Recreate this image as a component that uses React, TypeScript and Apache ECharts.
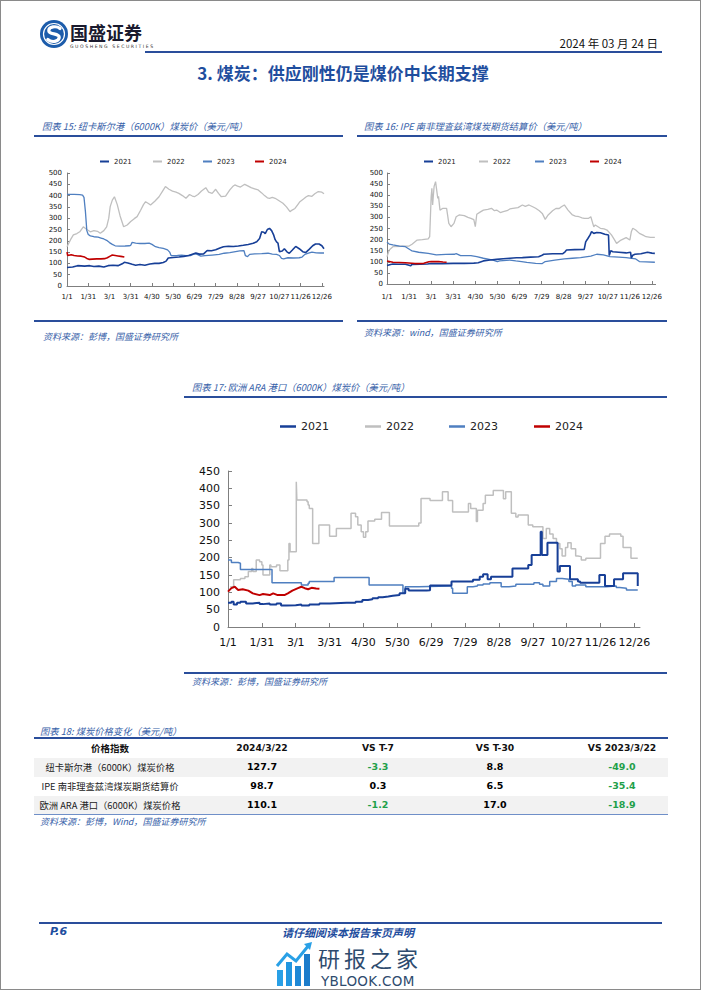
import React, { useEffect, useRef } from "react";
import * as echarts from "echarts";

// ---------- data ----------
const TICK_LABELS = ["1/1", "1/31", "3/1", "3/31", "4/30", "5/30", "6/29", "7/29", "8/28", "9/27", "10/27", "11/26", "12/26"];
const TICK_DAYS = [0, 30, 60, 90, 120, 150, 180, 210, 240, 270, 300, 330, 360];
const YEARS = ["2021", "2022", "2023", "2024"];
const COLORS = ["#173F97", "#BFBFBF", "#4F7FC0", "#C00000"];

type P = [number, number][];

// 图表15 纽卡斯尔港
const NEWCASTLE_2021: P = [[0,82],[8,84],[15,90],[25,88],[32,90],[38,86],[45,88],[52,84],[58,90],[65,92],[72,90],[78,98],[81,105],[86,102],[92,96],[97,92],[103,95],[110,92],[117,97],[124,100],[130,100],[136,104],[140,110],[143,124],[150,126],[158,128],[165,131],[172,135],[178,142],[182,146],[187,141],[193,142],[198,157],[204,156],[210,160],[216,168],[221,174],[228,176],[235,175],[242,177],[249,180],[256,184],[263,189],[268,196],[272,210],[275,240],[278,238],[280,232],[283,250],[286,255],[289,245],[292,225],[294,205],[296,195],[298,190],[300,152],[304,155],[307,165],[311,150],[314,145],[318,158],[323,175],[328,165],[333,152],[337,148],[342,162],[347,178],[351,186],[356,186],[360,178],[363,165]];
const NEWCASTLE_2022: P = [[0,174],[5,205],[9,226],[14,232],[18,240],[23,262],[28,250],[33,240],[38,245],[43,242],[47,233],[52,245],[56,262],[59,300],[61,351],[64,380],[67,395],[71,360],[75,310],[80,262],[85,270],[90,285],[95,298],[99,307],[104,335],[108,360],[111,373],[115,365],[118,358],[124,375],[130,395],[135,420],[139,440],[144,428],[149,420],[154,415],[158,410],[163,400],[168,388],[173,405],[177,398],[180,395],[185,405],[190,420],[196,435],[200,415],[205,410],[210,428],[214,410],[218,395],[224,398],[230,425],[234,440],[237,447],[241,442],[245,438],[251,450],[256,442],[260,435],[265,430],[270,425],[275,412],[279,400],[283,390],[286,388],[290,392],[294,388],[299,378],[305,366],[310,350],[315,329],[318,336],[322,343],[326,360],[329,373],[334,385],[338,395],[341,400],[346,397],[350,408],[355,418],[360,415],[363,408]];
const NEWCASTLE_2023: P = [[0,405],[10,405],[18,404],[22,402],[24,392],[26,330],[28,245],[30,228],[33,222],[38,218],[44,216],[48,212],[52,208],[56,202],[60,192],[64,184],[68,178],[74,176],[82,177],[88,178],[90,180],[92,193],[97,190],[103,188],[110,188],[116,190],[120,184],[125,174],[130,170],[136,166],[142,160],[145,150],[147,135],[150,134],[156,135],[162,137],[168,134],[175,135],[180,142],[184,140],[189,132],[195,134],[205,137],[215,140],[222,145],[230,148],[238,152],[244,155],[250,156],[252,134],[255,130],[258,140],[265,142],[275,143],[284,145],[290,141],[296,140],[300,135],[303,122],[306,120],[312,125],[320,124],[328,125],[332,128],[336,140],[341,145],[346,150],[352,147],[358,146],[363,146]];
const NEWCASTLE_2024: P = [[0,150],[1,135],[6,138],[10,135],[15,133],[20,132],[25,128],[28,122],[31,118],[36,119],[42,120],[48,120],[53,121],[57,125],[61,132],[64,137],[68,135],[72,133],[76,131],[81,128]];

// 图表16 IPE 南非理查兹湾
const IPE_2021: P = [[0,83],[5,88],[8,90],[15,89],[25,89],[30,84],[32,82],[34,88],[45,89],[55,90],[60,92],[75,92],[90,93],[105,93],[118,94],[124,96],[131,104],[140,108],[149,111],[158,114],[167,116],[176,118],[184,119],[195,121],[206,123],[210,128],[213,134],[225,136],[239,137],[242,145],[244,153],[255,155],[268,156],[270,190],[273,205],[276,221],[278,236],[281,228],[285,232],[290,231],[296,224],[301,221],[302,128],[304,150],[307,145],[315,143],[325,140],[331,143],[332,116],[334,130],[337,134],[345,136],[354,143],[360,139],[364,138]];
const IPE_2022: P = [[0,123],[3,153],[8,168],[20,170],[30,171],[34,179],[41,198],[48,200],[56,203],[58,213],[60,393],[61,431],[62,356],[64,439],[66,461],[69,386],[70,395],[72,333],[76,341],[81,341],[84,273],[87,258],[91,273],[94,303],[98,311],[105,308],[110,300],[114,296],[118,290],[120,258],[122,314],[127,325],[131,333],[137,336],[142,341],[146,330],[149,333],[154,322],[158,326],[163,330],[167,338],[171,341],[178,344],[184,356],[188,350],[193,356],[198,348],[202,341],[207,330],[211,318],[215,291],[219,311],[225,330],[230,341],[234,340],[237,348],[241,356],[246,333],[252,311],[256,306],[261,303],[265,298],[268,296],[274,296],[277,303],[279,280],[281,258],[283,266],[290,251],[295,248],[299,243],[305,221],[309,200],[312,183],[318,198],[325,209],[330,198],[332,235],[334,251],[338,243],[343,228],[348,220],[352,213],[358,210],[364,210]];
const IPE_2023: P = [[0,188],[3,180],[8,176],[17,171],[25,168],[32,153],[34,149],[43,143],[56,138],[67,131],[80,133],[92,134],[94,137],[100,128],[114,128],[122,123],[131,116],[144,108],[150,101],[153,104],[167,108],[175,104],[183,101],[190,97],[202,93],[211,92],[215,101],[228,108],[241,113],[252,116],[263,119],[277,126],[285,134],[294,131],[303,123],[315,121],[325,119],[338,113],[343,101],[352,100],[364,98]];
const IPE_2024: P = [[0,104],[8,98],[25,96],[38,92],[50,93],[57,100],[60,101],[70,101],[76,99],[81,98]];

// 图表17 欧洲 ARA 港口 (change points)
const ARA_2021: P = [[0,70],[3,73],[5,65],[8,70],[11,73],[16,68],[22,70],[28,66],[31,68],[37,65],[43,68],[47,62],[52,63],[60,65],[65,62],[72,65],[81,68],[90,70],[105,70],[113,73],[119,78],[124,80],[128,83],[133,86],[137,88],[142,90],[146,92],[152,97],[157,110],[160,105],[176,106],[179,120],[198,131],[206,131],[217,136],[223,145],[226,152],[230,138],[233,145],[252,169],[266,179],[269,208],[276,208],[277,275],[278,208],[283,243],[292,160],[294,176],[303,138],[310,131],[312,128],[329,150],[334,118],[342,138],[350,155],[363,118]];
const ARA_2022: P = [[2,116],[5,136],[11,140],[15,145],[18,160],[21,169],[22,160],[25,193],[28,188],[30,179],[31,150],[37,179],[38,174],[43,179],[46,162],[53,193],[54,241],[55,217],[60.5,419],[61,366],[70,361],[71,352],[72,342],[75,241],[80.5,294],[90,262],[96,284],[109,328],[113,318],[115,294],[118,275],[120,259],[122,275],[124,306],[130,311],[136,330],[143,291],[169,300],[171,371],[179,365],[190,390],[195,365],[199,332],[213,356],[215,342],[220,304],[221,337],[226,356],[228,380],[235,394],[244,370],[246,390],[251,328],[255,317],[257,323],[266,294],[270,289],[279,255],[282,284],[285,268],[288,255],[291,241],[294,226],[296,205],[299,229],[301,243],[304,226],[308,205],[310,203],[313,193],[317,198],[330,241],[334,262],[338,268],[348,262],[350,229],[357,198],[363,198]];
const ARA_2023: P = [[0,193],[3,186],[9,184],[11,166],[38,166],[39,128],[64,128],[65,121],[71,126],[72,131],[93,131],[94,143],[124,143],[125,121],[154,121],[155,97],[157,116],[169,118],[196,118],[198,112],[199,97],[212,116],[217,118],[221,121],[226,124],[232,128],[242,116],[249,118],[255,123],[271,128],[276,123],[279,118],[285,131],[291,140],[296,138],[302,131],[305,118],[308,121],[317,116],[335,118],[344,114],[347,112],[353,107],[363,109]];
const ARA_2024: P = [[0,102],[3,112],[6,116],[9,107],[13,109],[18,105],[22,97],[28,92],[31,95],[37,92],[40,97],[44,92],[50,92],[53,97],[57,105],[62,112],[65,116],[68,112],[71,109],[74,113],[78,111],[81,110]];

// 图表18 table
const TABLE_HEADERS = ["价格指数", "2024/3/22", "VS T-7", "VS T-30", "VS 2023/3/22"];
const TABLE_ROWS = ["纽卡斯尔港（6000K）煤炭价格", "IPE 南非理查兹湾煤炭期货结算价", "欧洲 ARA 港口（6000K）煤炭价格"];
const PRICE_0322 = [127.7, 98.7, 110.1];
const VS_T7 = [-3.3, 0.3, -1.2];
const VS_T30 = [8.8, 6.5, 17.0];
const VS_YOY = [-49.0, -35.4, -18.9];

// ---------- chart config ----------
type Cfg = {
  grid: { left: number; top: number; width: number; height: number };
  xMax: number; yMax: number; yInterval: number;
  series: P[]; step: (false | "end")[]; widths: number[];
  legendX: number[]; legendTop: number; iconW: number; iconH: number;
  fontSize: number; legendFont: number; yMargin: number; xMargin: number; tickLen: number;
};

function buildOption(c: Cfg) {
  const font = "DejaVu Sans";
  return {
    animation: false,
    grid: { ...c.grid, containLabel: false },
    legend: YEARS.map((y, i) => ({
      data: [y], left: c.legendX[i], top: c.legendTop, padding: 0, itemGap: 0,
      itemWidth: c.iconW, itemHeight: c.iconH, icon: "rect",
      textStyle: { fontFamily: font, fontSize: c.legendFont, color: "#222", lineHeight: c.legendFont + 2 },
    })),
    xAxis: {
      type: "value", min: 0, max: c.xMax, interval: 30,
      axisLine: { show: true, lineStyle: { color: "#7F7F7F", width: 1 } },
      axisTick: { show: true, inside: true, length: c.tickLen, lineStyle: { color: "#7F7F7F" }, customValues: TICK_DAYS },
      axisLabel: {
        fontFamily: font, fontSize: c.fontSize, color: "#111", margin: c.xMargin, customValues: TICK_DAYS,
        formatter: (v: number) => { const i = TICK_DAYS.indexOf(Math.round(v)); return i >= 0 ? TICK_LABELS[i] : ""; },
      },
      splitLine: { show: false },
    },
    yAxis: {
      type: "value", min: 0, max: c.yMax, interval: c.yInterval,
      axisLine: { show: true, lineStyle: { color: "#7F7F7F", width: 1 } },
      axisTick: { show: true, inside: true, length: c.tickLen, lineStyle: { color: "#7F7F7F" } },
      axisLabel: { fontFamily: font, fontSize: c.fontSize, color: "#111", margin: c.yMargin },
      splitLine: { show: false },
    },
    series: c.series.map((d, i) => ({
      name: YEARS[i], type: "line", data: d, showSymbol: false, symbol: "none",
      step: c.step[i], z: i === 3 ? 5 : i === 0 ? 4 : 3,
      lineStyle: { color: COLORS[i], width: c.widths[i] },
      itemStyle: { color: COLORS[i] },
    })),
  };
}

const CFG15: Cfg = {
  grid: { left: 32, top: 33, width: 257, height: 113 }, xMax: 363, yMax: 500, yInterval: 50,
  series: [NEWCASTLE_2021, NEWCASTLE_2022, NEWCASTLE_2023, NEWCASTLE_2024], step: [false, false, false, false],
  widths: [1.6, 1.3, 1.3, 1.6], legendX: [65, 118, 168, 220], legendTop: 17, iconW: 9, iconH: 2,
  fontSize: 7, legendFont: 7, yMargin: 5, xMargin: 7, tickLen: 3,
};
const CFG16: Cfg = {
  grid: { left: 30, top: 33, width: 276, height: 111 }, xMax: 365, yMax: 500, yInterval: 50,
  series: [IPE_2021, IPE_2022, IPE_2023, IPE_2024], step: [false, false, false, false],
  widths: [1.6, 1.3, 1.3, 1.6], legendX: [67, 122, 178, 233], legendTop: 17, iconW: 9, iconH: 2,
  fontSize: 7, legendFont: 7, yMargin: 4, xMargin: 9, tickLen: 3,
};
const CFG17: Cfg = {
  grid: { left: 43, top: 71, width: 412, height: 156 }, xMax: 365, yMax: 450, yInterval: 50,
  series: [ARA_2021, ARA_2022, ARA_2023, ARA_2024], step: ["end", "end", "end", false],
  widths: [2, 1.5, 1.5, 2], legendX: [95, 180, 264, 349], legendTop: 20, iconW: 16, iconH: 2.5,
  fontSize: 11, legendFont: 11, yMargin: 8, xMargin: 10, tickLen: 4,
};

function Chart({ cfg, style }: { cfg: Cfg; style: React.CSSProperties }) {
  const ref = useRef<HTMLDivElement>(null);
  useEffect(() => {
    if (!ref.current) return;
    const chart = echarts.init(ref.current, undefined, { renderer: "svg" });
    chart.setOption(buildOption(cfg) as any);
    return () => chart.dispose();
  }, [cfg]);
  return <div ref={ref} style={{ position: "absolute", overflow: "hidden", ...style }} />;
}

// ---------- page helpers ----------
const CJK = '"Noto Sans CJK SC", "DejaVu Sans", sans-serif';
const BLUE = "#2A4E9B";
const TITLE_BLUE = "#3560A8";

function Txt(props: {
  x: number; y: number; text: string; size: number; color?: string; weight?: number | string;
  italic?: boolean; anchor?: "left" | "center" | "right"; family?: string; ls?: number; lhf?: number;
}) {
  const { x, y, text, size, color = "#000", weight = 400, italic, anchor = "left", family = CJK, ls = 0, lhf = 1.25 } = props;
  const lh = Math.round(size * lhf);
  const w = 600;
  const left = anchor === "left" ? x : anchor === "center" ? x - w / 2 : x - w;
  return (
    <div style={{
      position: "absolute", left, top: y - lh / 2, width: w, height: lh, lineHeight: `${lh}px`,
      fontSize: size, color, fontWeight: weight as any, fontStyle: italic ? "italic" : "normal",
      fontFamily: family, textAlign: anchor, whiteSpace: "nowrap", letterSpacing: ls,
    }}>{text}</div>
  );
}

function Rule({ x1, x2, y, h = 1.5, color = BLUE }: { x1: number; x2: number; y: number; h?: number; color?: string }) {
  return <div style={{ position: "absolute", left: x1, top: y - h / 2, width: x2 - x1, height: h, background: color }} />;
}

const COL_X = [110, 262, 378, 495, 622];
const fmt = (v: number) => v.toFixed(1);
const numColor = (v: number) => (v < 0 ? "#1FA04A" : "#000");

export default function App() {
  useEffect(() => { document.body.style.margin = "0"; }, []);
  const rowY = [767, 786, 805];
  return (
    <div style={{ position: "absolute", left: 0, top: 0, width: 702, height: 991, background: "#fff", overflow: "hidden" }}>
      {/* page frame */}
      <div style={{ position: "absolute", left: 0, top: 0, width: 701, height: 990, border: "1px solid #8a8a8a", boxSizing: "border-box" }} />

      {/* header */}
      <svg style={{ position: "absolute", left: 39, top: 19 }} width={30} height={30} viewBox="0 0 30 30">
        <circle cx={15} cy={15} r={14} fill="#1C5CAB" />
        <circle cx={15} cy={15} r={10.5} fill="none" stroke="#ffffff" strokeWidth={1.2} />
        <path d="M21 9.5 C17.5 6.5, 9.5 7.5, 9.8 11.8 C10 16, 20.2 13.8, 20.2 18.3 C20.2 22.8, 12.5 23.8, 8.8 20.5" fill="none" stroke="#ffffff" strokeWidth={3.2} strokeLinecap="round" />
      </svg>
      <Txt x={70} y={31.5} text="国盛证券" size={18} weight={700} color="#1a1a2e" lhf={1.1} />
      <Txt x={70} y={46} text="GUOSHENG SECURITIES" size={4.6} color="#333" family="DejaVu Sans" ls={1.55} lhf={1.1} />
      <Txt x={658} y={43} text="2024 年 03 月 24 日" size={11.5} anchor="right" color="#111" />
      <Rule x1={145} x2={662} y={52} h={1.6} />
      <Txt x={343} y={72} text="3. 煤炭：供应刚性仍是煤价中长期支撑" size={17} weight={700} color="#1F4E9E" anchor="center" />

      {/* chart 15 */}
      <Txt x={42} y={126} text="图表 15: 纽卡斯尔港（6000K）煤炭价（美元/吨）" size={9.3} italic color={TITLE_BLUE} />
      <Rule x1={34} x2={343} y={136} />
      <Chart cfg={CFG15} style={{ left: 35, top: 140, width: 310, height: 175 }} />
      <Rule x1={34} x2={343} y={321} />
      <Txt x={43} y={336} text="资料来源：彭博，国盛证券研究所" size={9} italic color={TITLE_BLUE} />

      {/* chart 16 */}
      <Txt x={364} y={126} text="图表 16: IPE 南非理查兹湾煤炭期货结算价（美元/吨）" size={9.3} italic color={TITLE_BLUE} />
      <Rule x1={357} x2={667} y={136} />
      <Chart cfg={CFG16} style={{ left: 357, top: 140, width: 308, height: 175 }} />
      <Rule x1={357} x2={667} y={321} />
      <Txt x={364} y={332} text="资料来源：wind，国盛证券研究所" size={9} italic color={TITLE_BLUE} />

      {/* chart 17 */}
      <Txt x={192} y={387} text="图表 17: 欧洲 ARA 港口（6000K）煤炭价（美元/吨）" size={9.3} italic color={TITLE_BLUE} />
      <Rule x1={184} x2={667} y={397} />
      <Chart cfg={CFG17} style={{ left: 185, top: 400, width: 482, height: 268 }} />
      <Rule x1={184} x2={667} y={673} />
      <Txt x={192} y={681} text="资料来源：彭博，国盛证券研究所" size={9} italic color={TITLE_BLUE} />

      {/* table 18 */}
      <Txt x={40} y={731} text="图表 18: 煤炭价格变化（美元/吨）" size={9.3} italic color={TITLE_BLUE} />
      <Rule x1={34} x2={668} y={738} />
      {TABLE_HEADERS.map((h, i) => (
        <Txt key={h} x={COL_X[i]} y={748} text={h} size={i === 0 ? 9.5 : 9.2} weight={700} anchor="center"
          family={i === 0 ? CJK : '"DejaVu Sans", sans-serif'} color="#111" />
      ))}
      {rowY.map((y, r) => (
        <div key={"bg" + r} style={{ position: "absolute", left: 34, top: y - 9.5, width: 634, height: 19, background: r % 2 === 0 ? "#F2F2F2" : "#fff" }} />
      ))}
      {rowY.map((y, r) => (
        <React.Fragment key={"row" + r}>
          <Txt x={COL_X[0]} y={y} text={TABLE_ROWS[r]} size={9.3} anchor="center" color="#222" />
          <Txt x={COL_X[1]} y={y} text={fmt(PRICE_0322[r])} size={9.5} weight={700} anchor="center" family='"DejaVu Sans", sans-serif' color="#000" />
          <Txt x={COL_X[2]} y={y} text={fmt(VS_T7[r])} size={9.5} weight={700} anchor="center" family='"DejaVu Sans", sans-serif' color={numColor(VS_T7[r])} />
          <Txt x={COL_X[3]} y={y} text={fmt(VS_T30[r])} size={9.5} weight={700} anchor="center" family='"DejaVu Sans", sans-serif' color={numColor(VS_T30[r])} />
          <Txt x={COL_X[4]} y={y} text={fmt(VS_YOY[r])} size={9.5} weight={700} anchor="center" family='"DejaVu Sans", sans-serif' color={numColor(VS_YOY[r])} />
        </React.Fragment>
      ))}
      <Rule x1={34} x2={668} y={814.5} h={1} color="#6F8FC8" />
      <Txt x={40} y={821} text="资料来源：彭博，Wind，国盛证券研究所" size={9} italic color={TITLE_BLUE} />

      {/* footer */}
      <Rule x1={39} x2={662} y={923} h={1.6} />
      <Txt x={50} y={932} text="P.6" size={11} weight={700} italic color="#1F4E9E" family='"DejaVu Sans", sans-serif' lhf={1.1} />
      <Txt x={348} y={932} text="请仔细阅读本报告末页声明" size={11} weight={700} italic color="#1F4E9E" anchor="center" lhf={1.1} />

      {/* watermark */}
      <svg style={{ position: "absolute", left: 275, top: 940 }} width={40} height={48} viewBox="0 0 40 48">
        <rect x={2} y={30} width={6} height={16} fill="#29A0E6" />
        <rect x={11} y={22} width={6} height={24} fill="#2196E0" />
        <rect x={20} y={26} width={6} height={20} fill="#1E88D6" />
        <rect x={29} y={14} width={6} height={32} fill="#1C7CCB" />
        <polyline points="2,26 12,14 21,21 34,5" fill="none" stroke="#29A0E6" strokeWidth={3} />
        <polygon points="29,4 37,2 35,10" fill="#29A0E6" />
      </svg>
      <Txt x={318} y={956.5} text="研报之家" size={22} color="#2E4B6E" lhf={1.0} ls={4} />
      <Txt x={321} y={981} text="YBLOOK.COM" size={13.5} color="#2E4B6E" family='"DejaVu Sans", sans-serif' lhf={1.0} ls={0.3} />
    </div>
  );
}
